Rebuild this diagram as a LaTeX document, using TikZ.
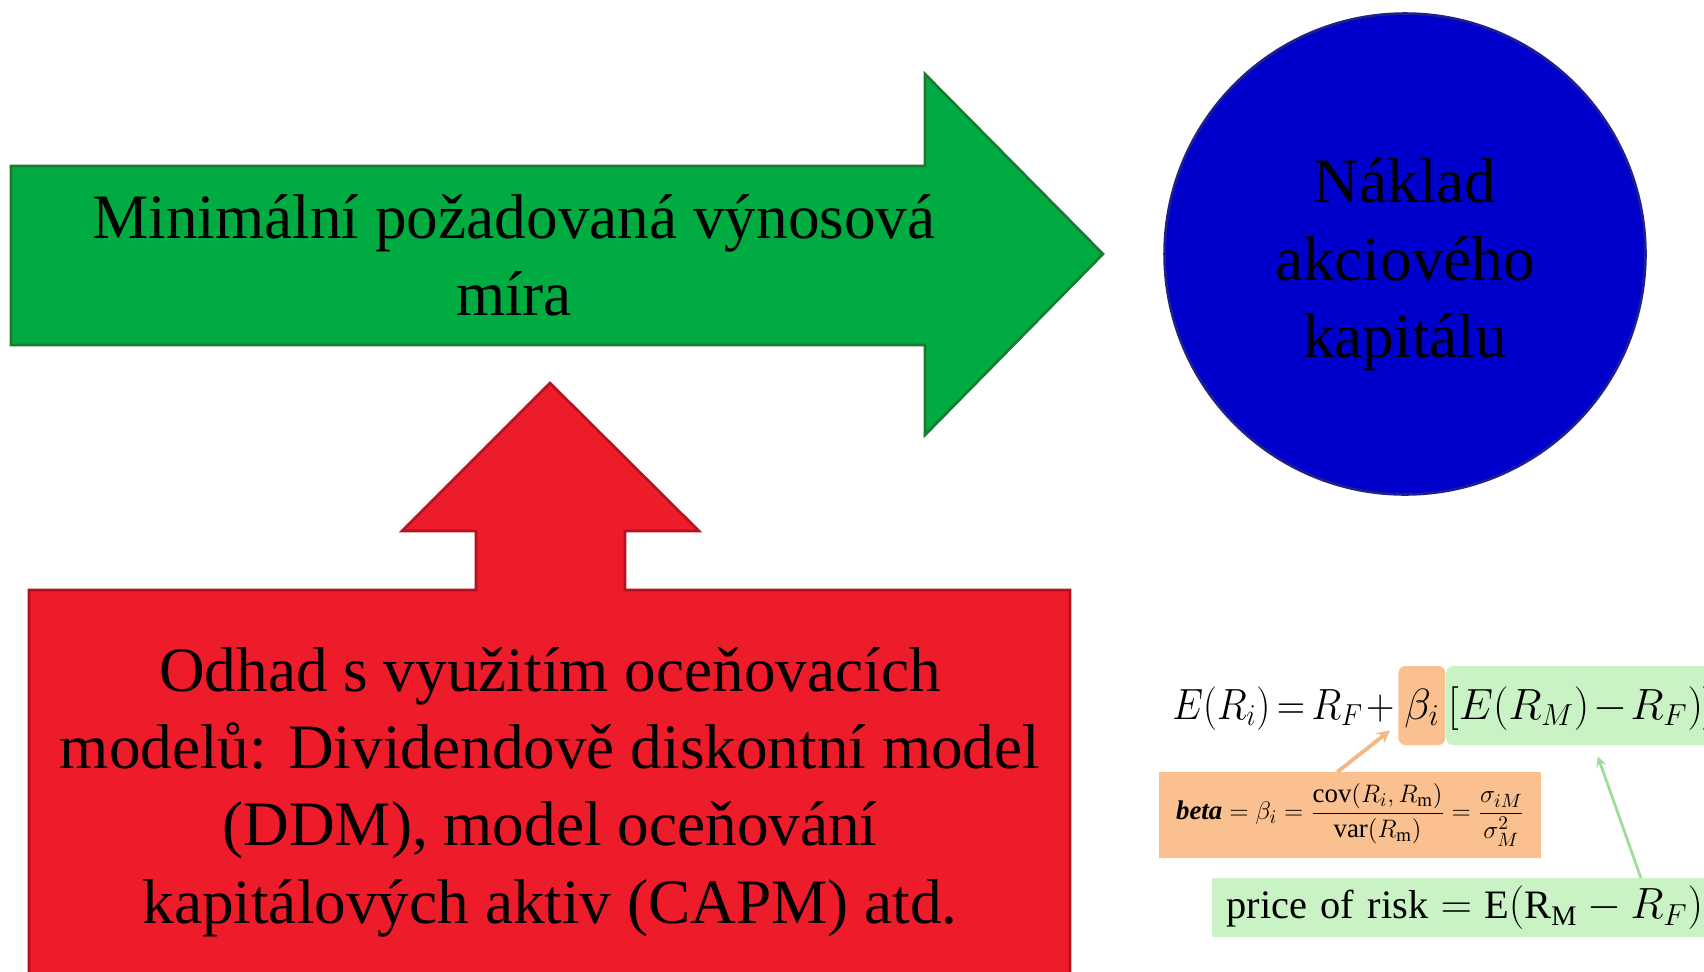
\documentclass[tikz,border=0pt]{standalone}
\usepackage{amsmath}
\usepackage{graphicx}
\usepackage{fontspec}
\setmainfont{Liberation Serif}
\usetikzlibrary{positioning,calc}
\definecolor{arrowgreen}{RGB}{0,172,66}
\definecolor{arrowgreenline}{RGB}{26,122,46}
\definecolor{boxred}{RGB}{238,28,42}
\definecolor{boxredline}{RGB}{180,18,30}
\definecolor{discblue}{RGB}{0,0,204}
\definecolor{discblueline}{RGB}{32,32,140}
\definecolor{betaorange}{RGB}{250,192,143}
\definecolor{betalinkcol}{RGB}{244,184,134}
\definecolor{riskgreen}{RGB}{202,243,197}
\definecolor{risklinkcol}{RGB}{160,220,155}
\newcommand\tightmath{\thickmuskip=3mu\relax\medmuskip=1.5mu\relax}
\newcommand\narrowmath[1]{\scalebox{0.9}[1]{$\tightmath#1$}}
\tikzset{
  bigtext/.style={font=\fontsize{36}{44}\selectfont, align=center},
  hl/.style={inner xsep=1pt, inner ysep=0pt, text height=1.06cm, text depth=0.52cm, rounded corners=4pt, anchor=base west, font=\fontsize{23}{27}\selectfont},
  betalink/.style={-stealth, line width=2.2pt, draw=betalinkcol},
  risklink/.style={-stealth, line width=1.6pt, draw=risklinkcol}
}
\begin{document}
\begin{tikzpicture}[x=0.02cm,y=-0.02cm]
		\useasboundingbox (0,0) rectangle (1704,971);
		\clip (0,0) rectangle (1704,971);
		\draw[fill=arrowgreen, draw=arrowgreenline, line width=1.5pt] (11,166) -- (925,166) -- (925,74) -- (1103,254) -- (925,435) -- (925,345) -- (11,345) -- cycle;
		\draw[fill=boxred, draw=boxredline, line width=1.5pt] (29,1000) -- (29,590) -- (476,590) -- (476,531) -- (402,531) -- (550,383) -- (699,531) -- (625,531) -- (625,590) -- (1070,590) -- (1070,1000) -- cycle;
		\node[bigtext] (rate) at (514,255) {Minimální požadovaná výnosová\\míra};
		\node[bigtext] (models) at (550,792) {Odhad s využitím oceňovacích\\modelů: Dividendově diskontní model\\(DDM), model oceňování\\kapitálových aktiv (CAPM) atd.};
		\node[circle, fill=discblue, draw=discblueline, line width=1.5pt, minimum size=9.62cm, inner sep=0pt] (cost) at (1405,254) {};
		\node[bigtext] (costlabel) at ([yshift=-0.22cm]cost.center) {Náklad\\akciového\\kapitálu};
		
		\node[hl, inner xsep=0pt] (capm) at (1172,719) {\narrowmath{E(R_i)=R_F+{}}};
		\node[hl, fill=betaorange, minimum width=0.94cm] (betahl) at (capm.base east) {$\beta_i$};
		\node[hl, fill=riskgreen] (greenhl) at (betahl.base east) {$\tightmath[E(R_M)-R_F)]$};
		\node[fill=betaorange, anchor=north west, minimum width=7.64cm, minimum height=1.72cm, inner sep=2pt, font=\fontsize{15.3}{18}\selectfont] (betabox) at (1159,772) {$\textbf{\textit{beta}}=\beta_i=\dfrac{\operatorname{cov}(R_i,R_{\mathrm{m}})}{\operatorname{var}(R_{\mathrm{m}})}=\dfrac{\sigma_{iM}}{\sigma_M^2}$};
		\node[fill=riskgreen, anchor=north west, minimum height=1.18cm, inner xsep=8pt, text width=9.9cm, align=left, font=\fontsize{23}{28}\selectfont] (pricebox) at (1212,878) {$\mathrm{price\ of\ risk}=\mathrm{E}(\mathrm{R}_{\mathrm{M}}-R_F)$};
		
		\draw[betalink] ([xshift=-0.26cm]betabox.north) -- ([xshift=-0.16cm,yshift=0.3cm]betahl.south west);
		\draw[risklink] ([xshift=8.58cm]pricebox.north west) -- ([xshift=3.04cm,yshift=-0.22cm]greenhl.south west);
	\end{tikzpicture}
\end{document}
